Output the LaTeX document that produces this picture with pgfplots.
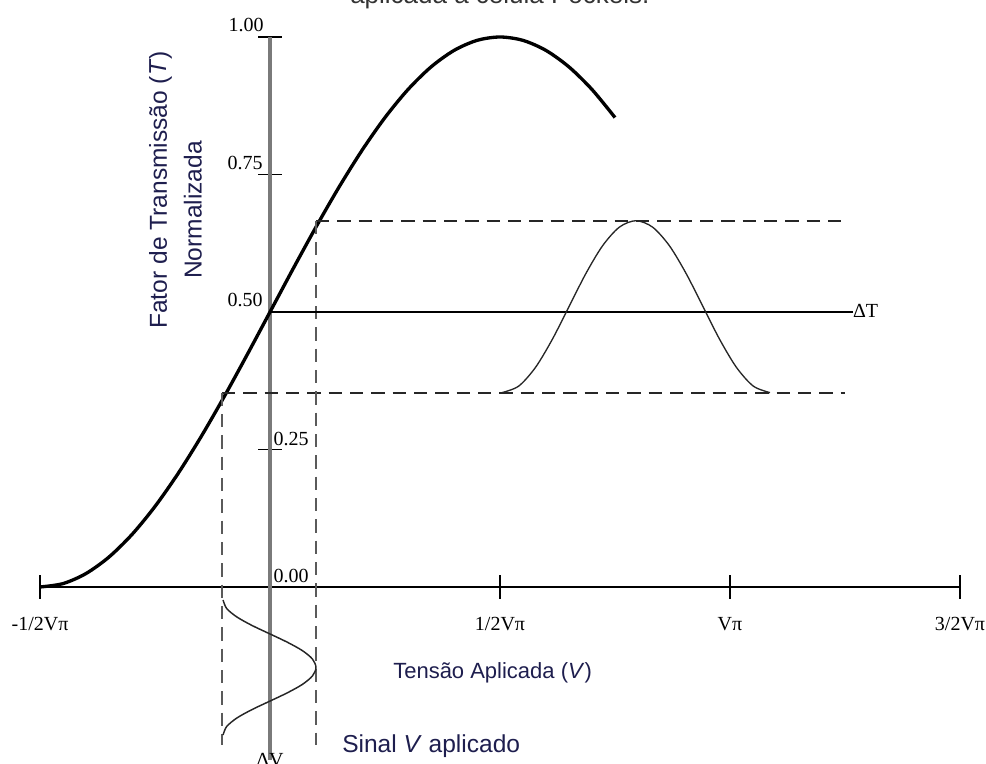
\documentclass[border=0pt]{standalone}
\usepackage{fontspec}
\usepackage{pgfplots}
\pgfplotsset{compat=1.18}
\setmainfont{Liberation Serif}
\newfontfamily\sansf{Liberation Sans}
\definecolor{labelcol}{HTML}{1E1E4E}
\definecolor{axisgray}{HTML}{7A7A7A}
\definecolor{dashgray}{HTML}{5A5A5A}
\newcommand\tickfont{\fontsize{15}{18}\selectfont}
\newcommand\labfont{\sansf\fontsize{18.4}{22}\selectfont}

\begin{document}
\begin{tikzpicture}
\begin{axis}[
  x=345pt, y=412.5pt,
  xmin=-0.5, xmax=1.5, ymin=-0.3145, ymax=1,
  axis lines=middle,
  axis line style={-},
  x axis line style={black, line width=1.3pt},
  y axis line style={draw=none},
  xtick={-0.5,0.5,1,1.5},
  ytick={0.25,0.75,1},
  xticklabels={}, yticklabels={},
  tick align=center,
  major tick length=18pt,
  tick style={black, line width=1.1pt},
  clip=false,
]
% vertical axis line
\addplot[axisgray, line width=2.6pt] coordinates {(0,1) (0,-0.3145)};

% transmission curve T(V)
\addplot[black, line width=2.5pt, smooth] table {
x y
-0.50 0.00000
-0.45 0.00616
-0.40 0.02447
-0.35 0.05450
-0.30 0.09549
-0.25 0.14645
-0.20 0.20611
-0.15 0.27300
-0.10 0.34549
-0.05 0.42178
0.00 0.50000
0.05 0.57822
0.10 0.65451
0.15 0.72700
0.20 0.79389
0.25 0.85355
0.30 0.90451
0.35 0.94550
0.40 0.97553
0.45 0.99384
0.50 1.00000
0.55 0.99384
0.60 0.97553
0.65 0.94550
0.70 0.90451
0.75 0.85355
};

% dashed guide lines
\addplot[black!85, line width=1.3pt, dash pattern=on 10pt off 6pt] coordinates {(0.100,0.666) (1.250,0.666)};
\addplot[black!85, line width=1.3pt, dash pattern=on 10pt off 6pt] coordinates {(-0.1043,0.3533) (1.250,0.3533)};
\addplot[dashgray, line width=1.4pt, dash pattern=on 10pt off 6pt] coordinates {(-0.1043,0.3533) (-0.1043,-0.287)};
\addplot[dashgray, line width=1.4pt, dash pattern=on 10pt off 6pt] coordinates {(0.100,0.666) (0.100,-0.287)};

% working point line
\addplot[black, line width=1.1pt] coordinates {(0,0.5) (1.267,0.5)};

% output signal
\addplot[black!85, line width=1pt, smooth] table {
x y
0.5043 0.3534
0.5407 0.3653
0.5771 0.3992
0.6135 0.4499
0.6500 0.5097
0.6864 0.5695
0.7228 0.6202
0.7592 0.6541
0.7956 0.6660
0.8320 0.6541
0.8685 0.6202
0.9049 0.5695
0.9413 0.5097
0.9777 0.4499
1.0141 0.3992
1.0506 0.3653
1.0869 0.3534
};

% applied signal
\addplot[black!85, line width=1.1pt, smooth] table {
x y
-0.1020 -0.0236
-0.0943 -0.0390
-0.0724 -0.0543
-0.0397 -0.0697
-0.0010 -0.0850
0.0377 -0.1004
0.0704 -0.1157
0.0923 -0.1310
0.1000 -0.1464
0.0923 -0.1617
0.0704 -0.1771
0.0377 -0.1924
-0.0010 -0.2078
-0.0397 -0.2231
-0.0724 -0.2384
-0.0943 -0.2538
-0.1020 -0.2691
};

% tick labels
\node[font=\tickfont, anchor=base] at (axis cs:-0.5,-0.0782) {-1/2Vπ};
\node[font=\tickfont, anchor=base] at (axis cs:0.5,-0.0782) {1/2Vπ};
\node[font=\tickfont, anchor=base] at (axis cs:1.0,-0.0782) {Vπ};
\node[font=\tickfont, anchor=base] at (axis cs:1.5,-0.0782) {3/2Vπ};
\node[font=\tickfont] at (axis cs:-0.052,1.0218) {1.00};
\node[font=\tickfont] at (axis cs:-0.054,0.7718) {0.75};
\node[font=\tickfont] at (axis cs:-0.054,0.5218) {0.50};
\node[font=\tickfont] at (axis cs:0.0457,0.2700) {0.25};
\node[font=\tickfont] at (axis cs:0.0457,0.0191) {0.00};
\node[font=\tickfont, anchor=west, inner sep=0pt] at (axis cs:1.267,0.5018) {ΔT};
\node[font=\tickfont, anchor=north, inner sep=0pt] at (axis cs:0,-0.302) {ΔV};

% axis titles
\node[font=\labfont, text=labelcol, rotate=90, anchor=base] at (axis cs:-0.224,0.7218) {Fator de Transmissão (\textit{T})};
\node[font=\labfont, text=labelcol, rotate=90, anchor=base] at (axis cs:-0.1486,0.6855) {Normalizada};
\node[font=\sansf\fontsize{16.5}{20}\selectfont, text=labelcol, anchor=base west, inner sep=0pt] at (axis cs:0.2674,-0.1655) {Tensão Aplicada (\textit{V})};
\node[font=\labfont, text=labelcol, anchor=base west, inner sep=0pt] at (axis cs:0.1565,-0.3013) {Sinal \textit{V} aplicado};
\node[font=\sansf\fontsize{19.5}{23}\selectfont, text=black!80, anchor=base west, inner sep=0pt] at (axis cs:0.1739,1.060) {aplicada à célula Pockels.};

\coordinate (bbSW) at (axis cs:-0.58696,-0.32182);
\coordinate (bbNE) at (axis cs:1.55652,1.06727);
\end{axis}
\pgfresetboundingbox
\path[use as bounding box] (bbSW) rectangle (bbNE);
\end{tikzpicture}
\end{document}
